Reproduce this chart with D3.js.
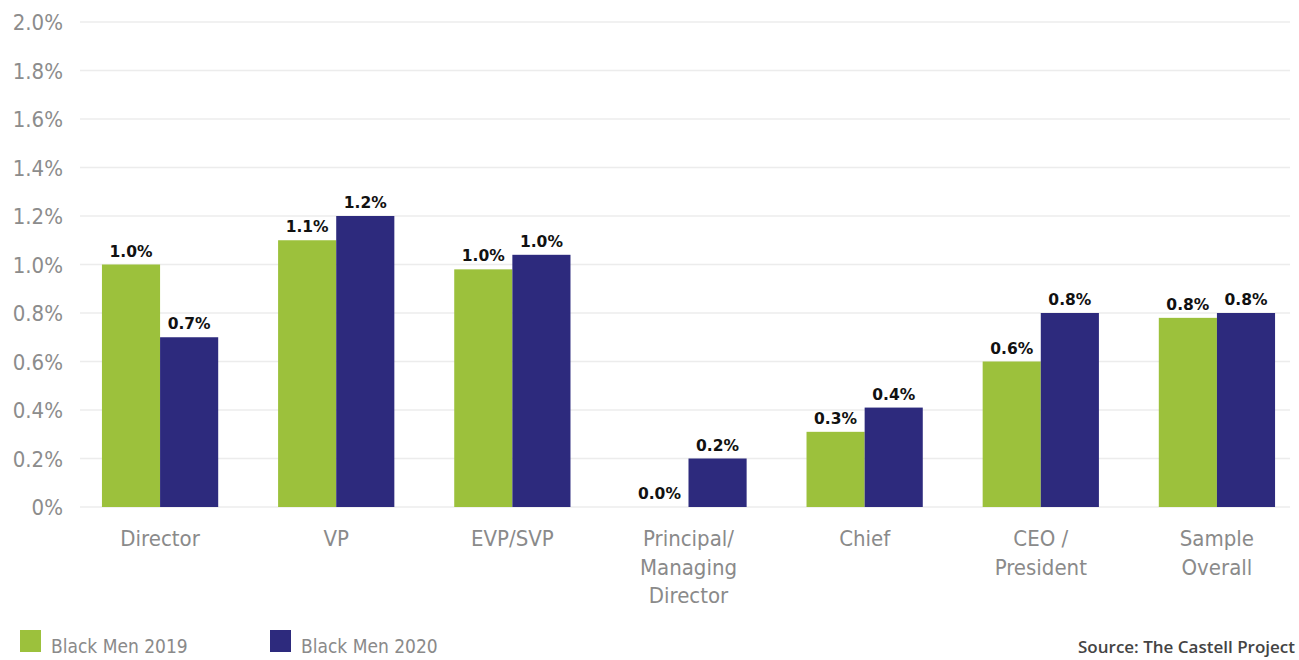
<!DOCTYPE html>
<html>
<head>
<meta charset="utf-8">
<script src="https://cdn.jsdelivr.net/npm/d3@7"></script>
<style>
  html, body { margin: 0; padding: 0; background: #fff; }
  svg { display: block; }
</style>
</head>
<body>
<svg id="chart" width="1299" height="660"></svg>
<script>
// Share of Black men by role, 2019 vs 2020 (values in percent)
const categories = ["Director", "VP", "EVP/SVP", "Principal/\nManaging\nDirector", "Chief", "CEO /\nPresident", "Sample\nOverall"];
const values2019 = [1.0, 1.1, 0.98, 0.0, 0.31, 0.6, 0.78];
const values2020 = [0.7, 1.2, 1.04, 0.2, 0.41, 0.8, 0.8];
const seriesNames = ["Black Men 2019", "Black Men 2020"];
const yTicks = [0, 0.2, 0.4, 0.6, 0.8, 1.0, 1.2, 1.4, 1.6, 1.8, 2.0];
const sourceText = "Source: The Castell Project";

const colors = ["#9cc13c", "#2d2a7d"];
const narrow = "'Liberation Sans Narrow', 'DejaVu Sans Condensed', sans-serif";

const svg = d3.select("#chart");

const x = d3.scaleBand()
  .domain(categories)
  .range([72, 1305])
  .paddingInner(0.34)
  .paddingOuter(0.17);

const xSub = d3.scaleBand()
  .domain([0, 1])
  .range([0, x.bandwidth()]);

const y = d3.scaleLinear()
  .domain([0, 2.0])
  .range([507, 22]);

// Horizontal gridlines + tick labels
const yAxis = d3.axisLeft(y)
  .tickValues(yTicks)
  .tickSize(0)
  .tickPadding(0)
  .tickFormat(d => d === 0 ? "0%" : d3.format(".1f")(d) + "%");

const gAxis = svg.append("g").attr("transform", "translate(63,0)").call(yAxis);
gAxis.select(".domain").remove();
gAxis.selectAll("text")
  .attr("fill", "#8c8c8c")
  .attr("font-family", narrow)
  .attr("font-size", 22)
  .attr("dy", "0.36em");

svg.append("g")
  .selectAll("line")
  .data(yTicks)
  .join("line")
  .attr("x1", 80)
  .attr("x2", 1290)
  .attr("y1", d => y(d))
  .attr("y2", d => y(d))
  .attr("stroke", "#ececec")
  .attr("stroke-width", 1.5);

// Bars with value labels
const series = [values2019, values2020];
const groups = svg.append("g")
  .selectAll("g")
  .data(categories)
  .join("g")
  .attr("transform", d => `translate(${x(d)},0)`);

groups.each(function (cat, i) {
  const g = d3.select(this);
  series.forEach((vals, s) => {
    const v = vals[i];
    g.append("rect")
      .attr("x", xSub(s))
      .attr("width", xSub.bandwidth())
      .attr("y", y(v))
      .attr("height", y(0) - y(v))
      .attr("fill", colors[s]);
    g.append("text")
      .attr("x", xSub(s) + xSub.bandwidth() / 2)
      .attr("y", y(v) - 8)
      .attr("text-anchor", "middle")
      .attr("font-family", "'DejaVu Sans', sans-serif")
      .attr("font-weight", "bold")
      .attr("font-size", 15.5)
      .attr("fill", "#111")
      .text(d3.format(".1f")(v) + "%");
  });
});

// Category labels (multi-line)
const catLabels = svg.append("g")
  .selectAll("text")
  .data(categories)
  .join("text")
  .attr("x", d => x(d) + x.bandwidth() / 2)
  .attr("y", 546)
  .attr("text-anchor", "middle")
  .attr("font-family", narrow)
  .attr("font-size", 22)
  .attr("fill", "#8a8a8a");

catLabels.each(function (d) {
  const t = d3.select(this);
  d.split("\n").forEach((line, k) => {
    t.append("tspan")
      .attr("x", x(d) + x.bandwidth() / 2)
      .attr("dy", k === 0 ? 0 : 28.5)
      .text(line);
  });
});

// Legend
const legend = svg.append("g");
const legendX = [20, 270];
seriesNames.forEach((name, s) => {
  legend.append("rect")
    .attr("x", legendX[s])
    .attr("y", 630)
    .attr("width", 21)
    .attr("height", 22)
    .attr("fill", colors[s]);
  legend.append("text")
    .attr("x", legendX[s] + 31)
    .attr("y", 653)
    .attr("font-family", narrow)
    .attr("font-size", 19)
    .attr("fill", "#8a8a8a")
    .text(name);
});

// Source note
svg.append("text")
  .attr("x", 1295)
  .attr("y", 653)
  .attr("text-anchor", "end")
  .attr("font-family", "'Open Sans', sans-serif")
  .attr("font-size", 17)
  .attr("font-weight", 600)
  .attr("fill", "#444")
  .text(sourceText);
</script>
</body>
</html>
